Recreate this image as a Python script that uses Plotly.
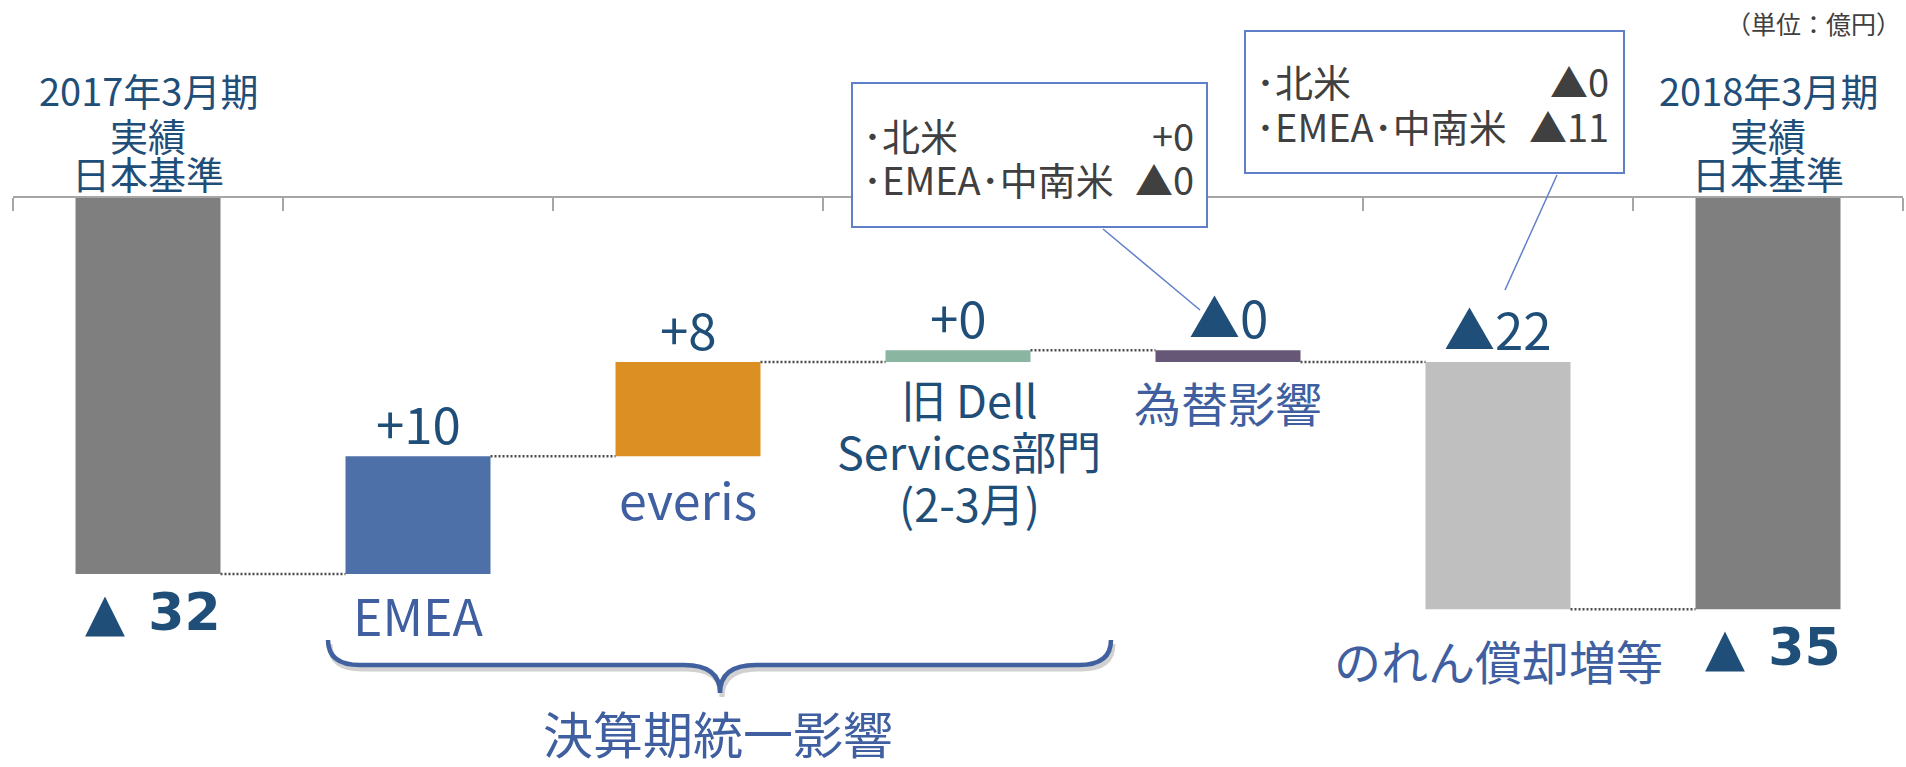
import plotly.graph_objects as go

# data ------------------------------------------------------------
categories = ["2017年3月期", "EMEA", "everis", "旧 Dell Services部門", "為替影響", "のれん償却増等", "2018年3月期"]
label_lines = [
    ["2017年3月期", "実績", "日本基準"],
    ["EMEA"],
    ["everis"],
    ["旧 Dell", "Services部門", "(2-3月)"],
    ["為替影響"],
    ["のれん償却増等"],
    ["2018年3月期", "実績", "日本基準"],
]
start_value = -32
deltas = [10, 8, 1, -1, -21]
end_value = -35
value_text = ["▲ 32", "+10", "+8", "+0", "▲0", "▲22", "▲ 35"]
bar_colors = ["#7f7f7f", "#4e70a8", "#dc8f22", "#8ab5a0", "#675777", "#bfbfbf", "#7f7f7f"]

box_regions = ["北米", "EMEA・中南米"]
box1_values = ["+0", "▲0"]
box2_values = ["▲0", "▲11"]
group_label = "決算期統一影響"
unit_label = "（単位：億円）"

# layout constants -------------------------------------------------
W, H = 1906, 767
ML, MR = 13, 3
ZERO_PX = 197
PX_PER_UNIT = 11.78
BAR_W = 0.537

DARK = "#1f4e79"
MID = "#3f5fa0"
JP = "Noto Sans CJK JP"


def px_x(x):
    return (x - ML) / (W - ML - MR)


def px_y(y):
    return (H - y) / H


# waterfall bases ---------------------------------------------------
bases = [0]
heights = [start_value]
level = start_value
levels = [level]
for d in deltas:
    bases.append(level)
    heights.append(d)
    level += d
    levels.append(level)
bases.append(0)
heights.append(end_value)

xs = list(range(len(categories)))
tops = [max(b, b + h) for b, h in zip(bases, heights)]
bottoms = [min(b, b + h) for b, h in zip(bases, heights)]

fig = go.Figure()
fig.add_trace(go.Bar(
    x=xs, y=heights, base=bases, width=BAR_W,
    marker=dict(color=bar_colors, line=dict(width=0)),
    hoverinfo="skip", showlegend=False,
))

# dotted connectors
cx, cy = [], []
for i in range(len(xs) - 1):
    cx += [xs[i] + BAR_W / 2, xs[i + 1] - BAR_W / 2, None]
    cy += [levels[i], levels[i], None]
fig.add_trace(go.Scatter(
    x=cx, y=cy, mode="lines",
    line=dict(color="#4d4d4d", width=2.5, dash="2px,2px"),
    hoverinfo="skip", showlegend=False,
))

ann = []
# value labels
for i, t in enumerate(value_text):
    if i in (0, len(xs) - 1):
        ann.append(dict(x=xs[i], y=bottoms[i], text=t.replace(" ", "\u00a0\u200a"), yshift=-38,
                        xshift=5,
                        font=dict(family="DejaVu Sans, " + JP, size=52, color=DARK, weight="bold")))
    else:
        ann.append(dict(x=xs[i], y=tops[i], text=t, yshift=34,
                        font=dict(family=JP, size=51, color=DARK)))

# category labels
below_gap = {1: 40, 2: 42, 3: 37, 4: 40, 5: 50}
for i, lines in enumerate(label_lines):
    if i in (0, len(xs) - 1):
        for j, s in enumerate(lines):
            ann.append(dict(x=xs[i], y=tops[i], text=s, yshift=[108, 63, 25][j],
                            font=dict(family=JP, size=38, color=DARK)))
    else:
        col = DARK if i == 3 else MID
        size = 45 if i == 3 else (47 if i in (4, 5) else 50)
        for j, s in enumerate(lines):
            ann.append(dict(x=xs[i], y=bottoms[i], text=s, yshift=-below_gap[i] - 52 * j,
                            xshift=11 if i == 3 else 0,
                            font=dict(family=JP, size=size, color=col)))

for a in ann:
    a.update(xref="x", yref="y", showarrow=False, xanchor="center", yanchor="middle")

# callout boxes
shapes = []
boxes = [
    dict(x0=852, x1=1207, y0=83, y1=227, tx=861, vx=1196, ty=[135, 178], vals=box1_values,
         p=(1103, 229, 1200, 310)),
    dict(x0=1245, x1=1624, y0=31, y1=173, tx=1254, vx=1611, ty=[81, 125], vals=box2_values,
         p=(1557, 175, 1505, 290)),
]
for b in boxes:
    shapes.append(dict(type="rect", xref="paper", yref="paper",
                       x0=px_x(b["x0"]), x1=px_x(b["x1"]), y0=px_y(b["y1"]), y1=px_y(b["y0"]),
                       line=dict(color="#5f80c8", width=2), fillcolor="white", layer="above"))
    x0, y0, x1, y1 = b["p"]
    shapes.append(dict(type="line", xref="paper", yref="paper",
                       x0=px_x(x0), y0=px_y(y0), x1=px_x(x1), y1=px_y(y1),
                       line=dict(color="#5f80c8", width=1.5)))
    for j, reg in enumerate(box_regions):
        ann.append(dict(xref="paper", yref="paper", x=px_x(b["tx"]), y=px_y(b["ty"][j]),
                        text="･" + reg.replace("・", "･"), showarrow=False,
                        xanchor="left", yanchor="middle",
                        font=dict(family=JP, size=38, color="#404040")))
        ann.append(dict(xref="paper", yref="paper", x=px_x(b["vx"]), y=px_y(b["ty"][j]),
                        text=b["vals"][j], showarrow=False,
                        xanchor="right", yanchor="middle",
                        font=dict(family=JP, size=38, color="#404040")))


# brace under the grouped items
def brace_path(xl, xm, xr, ye, yl, yt, r, rt, dx=0, dy=0):
    pts = lambda x, y: f"{px_x(x + dx)},{px_y(y + dy)}"
    return (f"M {pts(xl, ye)} Q {pts(xl, yl)} {pts(xl + r, yl)} "
            f"L {pts(xm - rt, yl)} Q {pts(xm, yl)} {pts(xm, yt)} "
            f"Q {pts(xm, yl)} {pts(xm + rt, yl)} "
            f"L {pts(xr - r, yl)} Q {pts(xr, yl)} {pts(xr, ye)}")


shapes.append(dict(type="path", xref="paper", yref="paper",
                   path=brace_path(328, 720, 1111, 640, 665, 693, 32, 36, 2, 4),
                   line=dict(color="rgba(0,0,0,0.18)", width=5)))
shapes.append(dict(type="path", xref="paper", yref="paper",
                   path=brace_path(328, 720, 1111, 640, 665, 693, 32, 36),
                   line=dict(color="#40609f", width=4.5)))

ann.append(dict(xref="paper", yref="paper", x=px_x(718), y=px_y(732), text=group_label,
                showarrow=False, xanchor="center", yanchor="middle",
                font=dict(family=JP, size=50, color=MID)))
ann.append(dict(xref="paper", yref="paper", x=px_x(1903), y=px_y(23), text=unit_label,
                showarrow=False, xanchor="right", yanchor="middle",
                font=dict(family=JP, size=25, color="#404040")))

y_top = ZERO_PX / PX_PER_UNIT
y_bot = -(H - ZERO_PX) / PX_PER_UNIT

fig.update_layout(
    width=W, height=H,
    margin=dict(l=ML, r=MR, t=0, b=0),
    paper_bgcolor="white", plot_bgcolor="white",
    shapes=shapes, annotations=ann,
    xaxis=dict(range=[-0.5, len(xs) - 0.5], anchor="free", position=(H - ZERO_PX) / H,
               side="bottom", showline=True, linecolor="#a6a6a6", linewidth=2,
               ticks="outside", ticklen=13, tickwidth=2, tickcolor="#a6a6a6",
               tickvals=[i - 0.5 for i in range(len(xs) + 1)],
               showticklabels=False, showgrid=False, zeroline=False),
    yaxis=dict(range=[y_bot, y_top], visible=False),
)

fig.write_html("out.html", config={"displayModeBar": False},
               post_script="document.body.style.margin='0';")
